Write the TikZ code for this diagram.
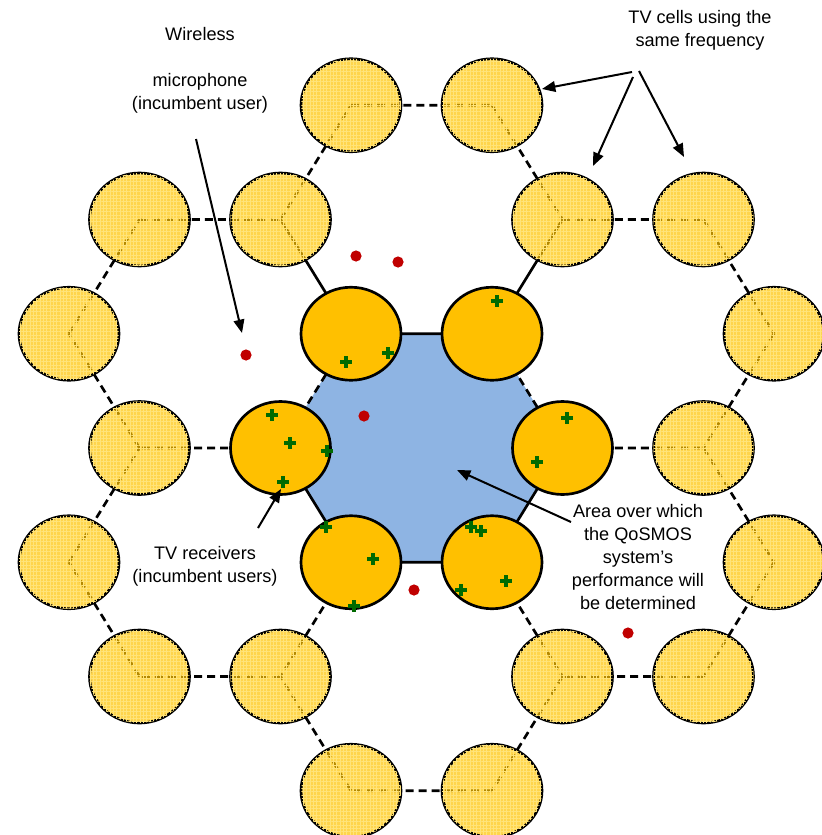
\documentclass[tikz,border=0pt]{standalone}
\usepackage{fontspec}
\setmainfont{Liberation Sans}
\usetikzlibrary{arrows.meta,patterns.meta,shapes.geometric}

\definecolor{cellorange}{HTML}{FFC000}
\definecolor{cellpale}{HTML}{FFC300}
\definecolor{gridlight}{HTML}{FFE47A}
\definecolor{areablue}{HTML}{8EB4E3}
\definecolor{micred}{HTML}{C00000}
\definecolor{rxgreen}{HTML}{006A00}

\tikzset{
  cellshape/.style={ellipse, minimum width=75pt, minimum height=69.75pt,
    inner sep=0pt, draw=black, line width=2pt},
  innercell/.style={cellshape, fill=cellorange},
  outercell/.style={cellshape, fill=cellpale, fill opacity=0.7,
    postaction={pattern={Lines[angle=0,distance=2.5pt,line width=0.35pt]}, pattern color=gridlight},
    postaction={pattern={Lines[angle=90,distance=2.5pt,line width=0.35pt]}, pattern color=gridlight}},
  solidedge/.style={draw=black, line width=2pt},
  dashedge/.style={draw=black, line width=2pt, dash pattern=on 6pt off 3.8pt},
  label/.style={align=center, font=\fontsize{13.6pt}{17.25pt}\selectfont, inner sep=0pt},
  pointer/.style={draw=black, line width=1.5pt, -{Triangle[length=10pt,width=8pt]}},
  micdot/.style={fill=micred},
  rxmark/.style={draw=rxgreen, line width=3.1pt}
}

\begin{document}
\begin{tikzpicture}[x=0.75pt,y=-0.75pt]
\useasboundingbox (0,0) rectangle (821,835);

% vertices of the central hexagon
\coordinate (i1) at (280.5,448);
\coordinate (i2) at (351,333.75);
\coordinate (i3) at (492,333.75);
\coordinate (i4) at (562.5,448);
\coordinate (i5) at (492,562.25);
\coordinate (i6) at (351,562.25);
% outer ring of vertices
\coordinate (t1) at (351,105.25);
\coordinate (t2) at (492,105.25);
\coordinate (a1) at (280.5,219.5);
\coordinate (a2) at (562.5,219.5);
\coordinate (b1) at (139.5,219.5);
\coordinate (b2) at (703.5,219.5);
\coordinate (l1) at (69,333.75);
\coordinate (r1) at (774,333.75);
\coordinate (b3) at (139.5,448);
\coordinate (b4) at (703.5,448);
\coordinate (l2) at (69,562.25);
\coordinate (r2) at (774,562.25);
\coordinate (d1) at (139.5,676.5);
\coordinate (d2) at (703.5,676.5);
\coordinate (a3) at (280.5,676.5);
\coordinate (a4) at (562.5,676.5);
\coordinate (t3) at (351,790.75);
\coordinate (t4) at (492,790.75);

% area of interest
\fill[areablue] (i1) -- (i2) -- (i3) -- (i4) -- (i5) -- (i6) -- cycle;

% cell boundaries
\path[solidedge] (i2) -- (i3) (i4) -- (i5) (i5) -- (i6) (i6) -- (i1)
                 (i2) -- (a1) (i3) -- (a2);
\path[dashedge] (i1) -- (i2) (i3) -- (i4)
                (i4) -- (b4) (i5) -- (a4) (i6) -- (a3) (i1) -- (b3)
                (a1) -- (t1) (t1) -- (t2) (t2) -- (a2)
                (a2) -- (b2) (b2) -- (r1) (r1) -- (b4)
                (b4) -- (r2) (r2) -- (d2) (d2) -- (a4)
                (a4) -- (t4) (t4) -- (t3) (t3) -- (a3)
                (a3) -- (d1) (d1) -- (l2) (l2) -- (b3)
                (b3) -- (l1) (l1) -- (b1) (b1) -- (a1);

% TV cells next to the area
\foreach \v in {i1,i2,i3,i4,i5,i6}
  \node[innercell] (cell-\v) at (\v) {};
% co-channel TV cells further out
\foreach \v in {t1,t2,a1,a2,b1,b2,l1,r1,b3,b4,l2,r2,d1,d2,a3,a4,t3,t4}
  \node[outercell] (cell-\v) at (\v) {};

% wireless microphones
\foreach \p in {(356,256),(398,262),(246,355),(364,416),(414,590),(628,633)}
  \fill[micdot] \p circle[radius=4.2pt];

% TV receivers
\foreach \p in {(497,301),(346,362),(388,353),(272,415),(290,443),(327,451),
                (283,482),(567,418),(537,462),(326,527),(373,559),(354,606),
                (471,527),(481,531),(506,581),(461,590)}
  \path[rxmark] \p +(-6,0) -- +(6,0) \p +(0,-6) -- +(0,6);

% labels
\node[label] (lblcells) at (700,30) {TV cells using the\\same frequency};
\node[label] (lblmic) at (200,70) {Wireless\\[17pt]microphone\\(incumbent user)};
\node[label] (lblrx) at (205,566.5) {TV receivers\\(incumbent users)};
\node[label] (lblarea) at (638,557) {Area over which\\the QoSMOS\\system’s\\performance will\\be determined};

% pointers
\coordinate (pc1) at (632,72);
\coordinate (pc2) at (633,77);
\coordinate (pc3) at (639,71);
\coordinate (hc1) at (542,89);
\coordinate (hc2) at (593,166);
\coordinate (hc3) at (684,157);
\path[pointer] (pc1) -- (hc1);
\path[pointer] (pc2) -- (hc2);
\path[pointer] (pc3) -- (hc3);

\coordinate (pm) at (196,139);
\coordinate (hm) at (242,333);
\path[pointer] (pm) -- (hm);

\coordinate (pr) at (258,528);
\coordinate (hr) at (281,489);
\path[pointer] (pr) -- (hr);

\coordinate (pa) at (571,522);
\coordinate (ha) at (457,470);
\path[pointer] (pa) -- (ha);
\end{tikzpicture}
\end{document}
